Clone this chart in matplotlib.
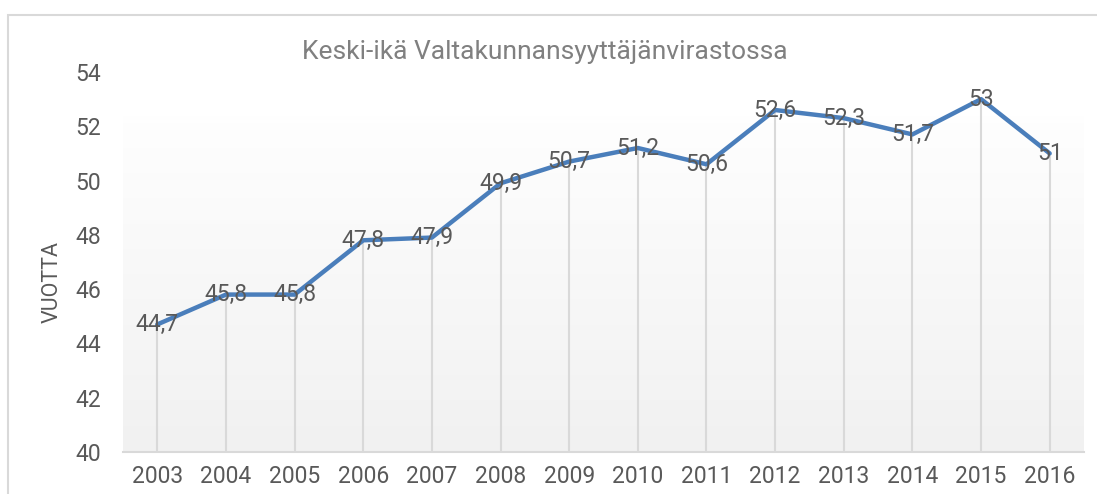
#!/usr/bin/env python3
"""Keski-ikä Valtakunnansyyttäjänvirastossa: line chart with drop lines."""

import matplotlib
matplotlib.use("Agg")
import matplotlib.pyplot as plt
import numpy as np
from matplotlib.patches import Rectangle

years = ["2003", "2004", "2005", "2006", "2007", "2008", "2009",
         "2010", "2011", "2012", "2013", "2014", "2015", "2016"]
ages = [44.7, 45.8, 45.8, 47.8, 47.9, 49.9, 50.7,
        51.2, 50.6, 52.6, 52.3, 51.7, 53.0, 51.0]
y_ticks = [40, 42, 44, 46, 48, 50, 52, 54]

TITLE = "Keski-ikä Valtakunnansyyttäjänvirastossa"
YLABEL = "VUOTTA"
LINE_COLOR = "#4a7ebb"
TEXT_COLOR = "#595959"
GRID_COLOR = "#d9d9d9"

plt.rcParams["font.family"] = ["Roboto", "DejaVu Sans"]


def fmt(v: float) -> str:
    return format(v, "g").replace(".", ",")


def main() -> None:
    fig = plt.figure(figsize=(10.97, 4.94), dpi=100, facecolor="white")
    # outer chart frame
    fig.patches.append(Rectangle((8 / 1097, -0.05), 1.2, 1 - 15 / 494 + 0.05,
                                 transform=fig.transFigure, fill=False,
                                 edgecolor="#d9d9d9", linewidth=1.5))
    ax = fig.add_axes([123 / 1097, 1 - 452 / 494, (1084 - 123) / 1097, 380 / 494])
    x = np.arange(len(years))
    ax.set_xlim(-0.5, len(years) - 0.5)
    ax.set_ylim(40, 54)

    # plot area gradient (white at top to light gray at bottom)
    grad = np.linspace(0, 1, 256).reshape(-1, 1)
    top = np.array([0.997, 0.997, 0.997])
    bot = np.array([0.945, 0.945, 0.945])
    img = top + (bot - top) * grad[..., None]
    ax.imshow(img, extent=(-0.5, len(years) - 0.5, 40, 52.35), aspect="auto",
              origin="upper", zorder=0)

    ax.vlines(x, 40, ages, colors=GRID_COLOR, linewidth=1.5, zorder=1)
    ax.plot(x, ages, color=LINE_COLOR, linewidth=3.2, solid_capstyle="round",
            solid_joinstyle="round", zorder=2)
    for xi, v in zip(x, ages):
        ax.text(xi, v, fmt(v), ha="center", va="center", fontsize=16.5,
                color=TEXT_COLOR, zorder=3)

    for side in ("top", "right", "left"):
        ax.spines[side].set_visible(False)
    ax.spines["bottom"].set_color(GRID_COLOR)
    ax.spines["bottom"].set_linewidth(1.5)
    ax.set_xticks(x)
    ax.set_xticklabels(years)
    ax.set_yticks(y_ticks)
    ax.set_yticklabels([str(t) for t in y_ticks])
    ax.tick_params(axis="both", length=0, labelsize=16.5, labelcolor=TEXT_COLOR)
    ax.tick_params(axis="x", pad=9)
    ax.tick_params(axis="y", pad=16)
    ax.set_ylabel(YLABEL, fontsize=15.5, color=TEXT_COLOR)
    ax.yaxis.set_label_coords(-0.0624, 0.447)

    fig.text(545 / 1097, 1 - 52 / 494, TITLE, ha="center", va="center",
             fontsize=19, color="#808080")

    fig.savefig("out.png", dpi=100, facecolor="white")
    plt.close(fig)


if __name__ == "__main__":
    main()
